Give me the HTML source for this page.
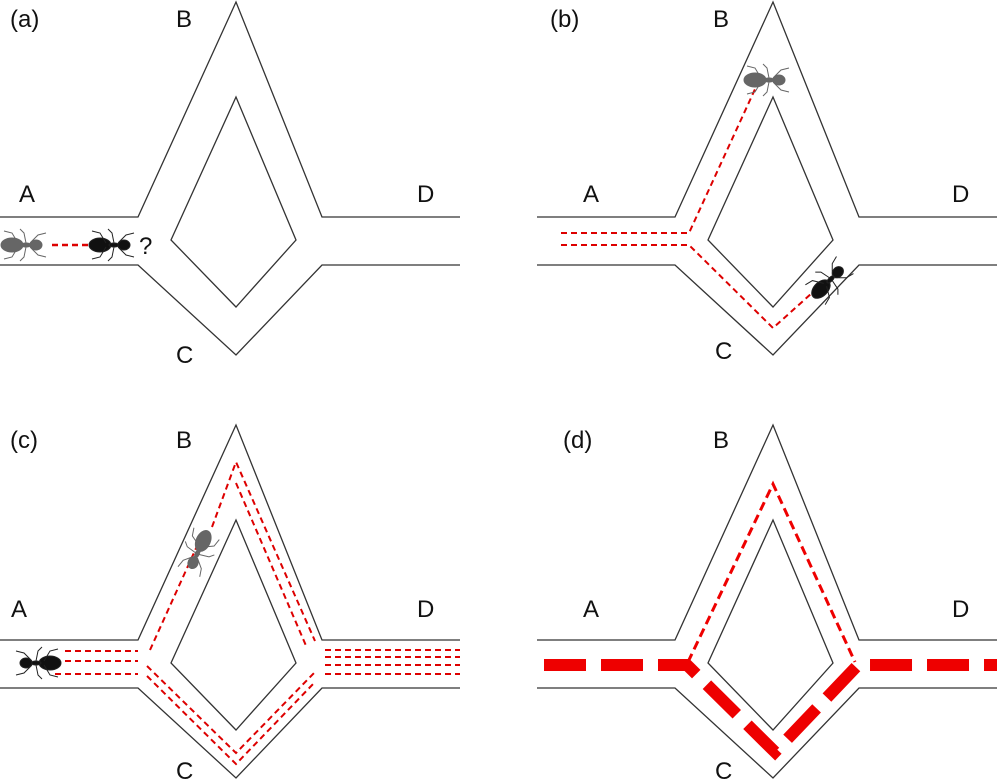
<!DOCTYPE html>
<html><head><style>
html,body{margin:0;padding:0;background:#fff;}
svg{display:block;}
text{font-family:"Liberation Sans",sans-serif;font-size:24px;fill:#111;}
</style></head><body>
<svg width="1000" height="783" viewBox="0 0 1000 783" xmlns="http://www.w3.org/2000/svg">
<defs>
<g id="net" fill="none" stroke="#333" stroke-width="1.3">
<polyline points="0,217 138,217 236,2 322,217 460,217"/>
<polyline points="0,265 138,265 236,355 322,265 460,265"/>
<polygon points="236,97 296,240 236,307 171,240"/>
</g>
<g id="ant">
<ellipse cx="-10" cy="0" rx="11" ry="7"/>
<ellipse cx="4" cy="0" rx="5" ry="2"/>
<ellipse cx="14" cy="0" rx="6" ry="5"/>
<g stroke-width="1" fill="none">
<path d="M-4,-2 L-10,-12 L-18,-14 M-4,2 L-10,12 L-18,14 M4,-2 L2,-12 L-2,-16 M4,2 L2,12 L-2,16 M8,-2 L16,-10 L24,-12 M8,2 L16,10 L24,12"/>
</g>
</g>
</defs>
<!-- a -->
<use href="#net"/>
<text x="10" y="27">(a)</text><text x="176" y="27">B</text><text x="19" y="202">A</text><text x="417" y="202">D</text><text x="176" y="363">C</text>
<line x1="52" y1="245" x2="88" y2="245" stroke="#d00" stroke-width="2.5" stroke-dasharray="6,4"/>
<g fill="#666" stroke="#666" transform="translate(22,245)"><use href="#ant"/></g>
<g fill="#111" stroke="#222" transform="translate(110,245)"><use href="#ant"/></g>
<text x="139" y="254">?</text>
<!-- b -->
<g transform="translate(537,0)"><use href="#net"/></g>
<text x="550" y="27">(b)</text><text x="713" y="27">B</text><text x="583" y="202">A</text><text x="952" y="202">D</text><text x="715" y="359">C</text>
<g fill="none" stroke="#d00" stroke-width="2" stroke-dasharray="6,4">
<polyline points="561,233 689,233 756,87"/>
<polyline points="561,245 689,245 773,328 812,293"/>
</g>
<g fill="#666" stroke="#666" transform="translate(765,80)"><use href="#ant"/></g>
<g fill="#111" stroke="#222" transform="translate(828,282) rotate(-45)"><use href="#ant"/></g>
<!-- c -->
<g transform="translate(0,423)"><use href="#net"/></g>
<text x="10" y="448">(c)</text><text x="176" y="448">B</text><text x="11" y="617">A</text><text x="417" y="617">D</text><text x="176" y="779">C</text>
<g fill="none" stroke="#d00" stroke-width="2" stroke-dasharray="6,4">
<line x1="65" y1="651" x2="138" y2="651"/><line x1="65" y1="661" x2="138" y2="661"/><line x1="55" y1="674" x2="138" y2="674"/>
<polyline points="150,650 202,535"/>
<polyline points="212,527 236,462 315,641"/>
<polyline points="236,483 307,648"/>
<polyline points="147,666 236,753 315,672"/>
<polyline points="147,676 236,764 315,682"/>
<line x1="325" y1="650" x2="460" y2="650"/><line x1="325" y1="657" x2="460" y2="657"/><line x1="325" y1="665" x2="460" y2="665"/><line x1="325" y1="674" x2="460" y2="674"/>
</g>
<g fill="#666" stroke="#666" transform="translate(199,550) rotate(115)"><use href="#ant"/></g>
<g fill="#111" stroke="#222" transform="translate(40,663) rotate(180)"><use href="#ant"/></g>
<!-- d -->
<g transform="translate(537,423)"><use href="#net"/></g>
<text x="563" y="448">(d)</text><text x="713" y="448">B</text><text x="583" y="617">A</text><text x="952" y="617">D</text><text x="715" y="779">C</text>
<polyline points="688,662 773,484 855,662" fill="none" stroke="#e00" stroke-width="3" stroke-dasharray="9,5"/>
<polyline points="544,665 687,665 775,752 858,665 997,665" fill="none" stroke="#e00" stroke-width="12" stroke-dasharray="42,15"/>
</svg>
</body></html>
